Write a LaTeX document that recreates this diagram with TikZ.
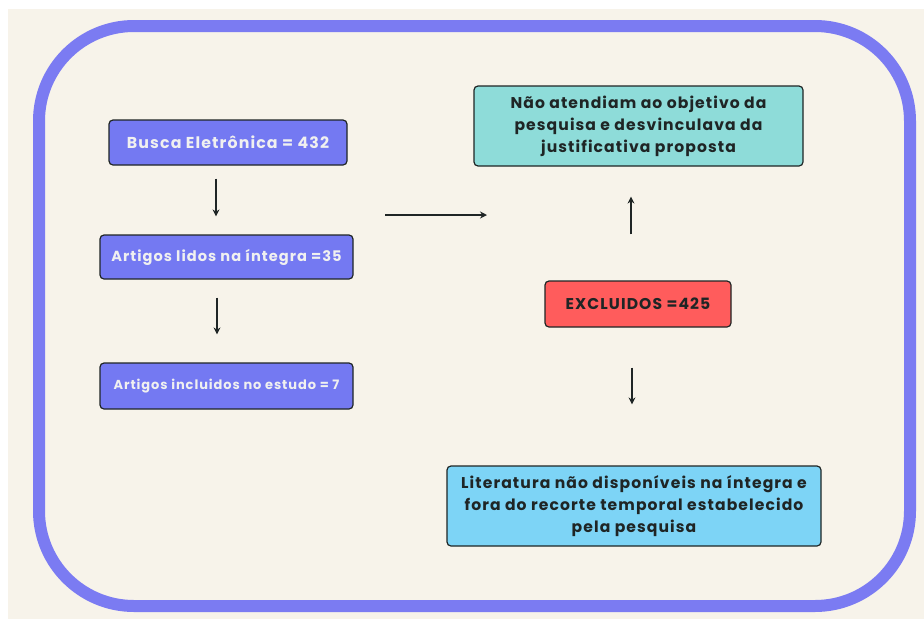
\documentclass[tikz,border=0pt]{standalone}
\usepackage{fontspec}
\setmainfont{Poppins}[LetterSpace=7]
\usetikzlibrary{arrows.meta, positioning}
\definecolor{cream}{HTML}{F7F3EA}
\definecolor{frame}{HTML}{7B7BF2}
\definecolor{violet}{HTML}{7479F2}
\definecolor{teal}{HTML}{8EDCD9}
\definecolor{redbox}{HTML}{FF5C5C}
\definecolor{skyblue}{HTML}{7DD4F6}
\definecolor{ink}{HTML}{1F2525}
\begin{document}
\begin{tikzpicture}[
        x=1pt, y=-1pt,
        >={Stealth[length=7pt, width=7pt]},
        box/.style={draw=ink, line width=1.2pt, rounded corners=4pt, align=center,
            font=\bfseries, inner sep=0pt},
        stage/.style={box, fill=violet, text=white!94!black},
        reason/.style={box, text=ink, font=\bfseries\fontsize{15.6}{22}\selectfont},
        flow/.style={->, draw=ink, line width=2pt}
    ]
    \useasboundingbox (0,0) rectangle (924,619);
    \fill[white] (0,0) rectangle (924,619);
    \fill[cream] (8,9) rectangle (924,619);
    \draw[frame, line width=12pt, rounded corners=95pt] (39,26) rectangle (910,606);
    \node[stage, minimum width=238pt, minimum height=45pt,
        font=\bfseries\fontsize{15.8}{18}\selectfont] (busca) at (228,142.5) {Busca Eletrônica = 432};
    \node[stage, minimum width=253pt, minimum height=44pt,
        font=\bfseries\fontsize{14.6}{18}\selectfont] (lidos) at (226.5,257) {Artigos lidos na íntegra =35};
    \node[stage, minimum width=253pt, minimum height=46pt,
        font=\bfseries\fontsize{13}{16}\selectfont] (incl) at (226.5,386) {Artigos incluidos no estudo = 7};
    \node[reason, fill=teal, minimum width=329pt, minimum height=80pt] (obj) at (638.5,126)
        {Não atendiam ao objetivo da\\pesquisa e desvinculava da\\justificativa proposta};
    \node[box, fill=redbox, text=ink, minimum width=186pt, minimum height=46pt,
        font=\bfseries\fontsize{15.6}{18}\selectfont] (excl) at (638,304) {EXCLUIDOS =425};
    \node[reason, fill=skyblue, minimum width=374pt, minimum height=80pt] (lit) at (634,506)
        {Literatura não disponíveis na íntegra e\\fora do recorte temporal estabelecido\\pela pesquisa};
    \coordinate (go) at (385,215);
    \coordinate (to) at (487,215);
    \draw[flow, shorten <=13pt, shorten >=18pt] (busca.south -| 216,0) -- (lidos.north -| 216,0);
    \draw[flow, shorten <=18pt, shorten >=28pt] (lidos.south -| 217,0) -- (incl.north -| 217,0);
    \draw[flow] (go) -- (to);
    \draw[flow, shorten <=46pt, shorten >=30pt] (excl.north -| 631,0) -- (obj.south -| 631,0);
    \draw[flow, shorten <=40pt, shorten >=61pt] (excl.south -| 632,0) -- (lit.north -| 632,0);
\end{tikzpicture}
\end{document}
